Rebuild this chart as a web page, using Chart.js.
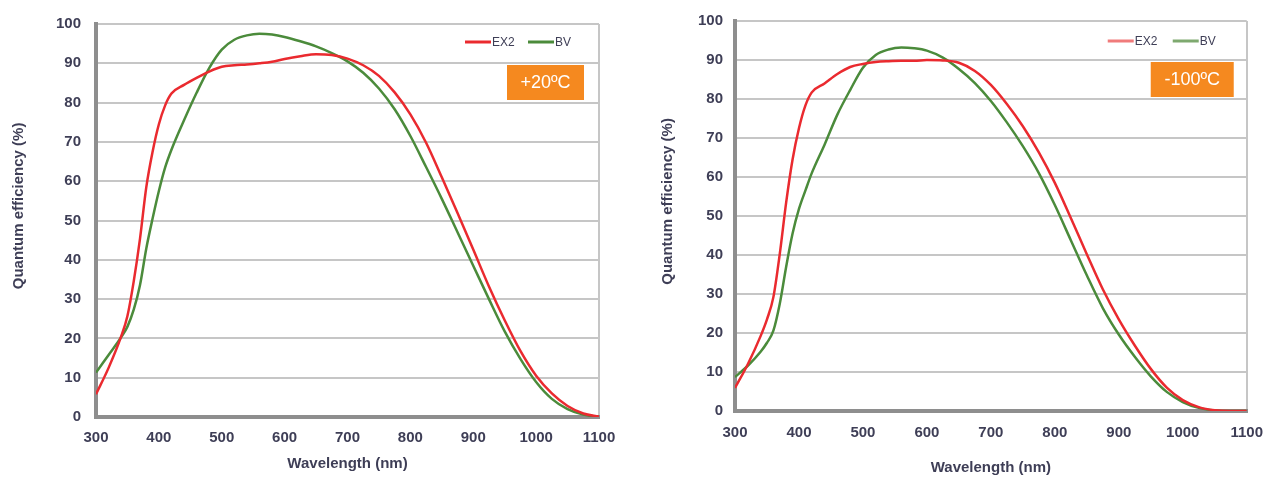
<!DOCTYPE html>
<html>
<head>
<meta charset="utf-8">
<script src="https://cdn.jsdelivr.net/npm/chart.js"></script>
<style>
  html, body { margin: 0; background: #fff; overflow: hidden; }
  body { width: 1265px; height: 482px; position: relative; }
  canvas { position: absolute; top: 0; }
  #warm { left: 0; }
  #cold { left: 633px; }
</style>
</head>
<body>
<canvas id="warm" width="632" height="482"></canvas>
<canvas id="cold" width="643" height="482"></canvas>
<script>
// wavelength grid (nm) shared by all four curves
const wavelengths = [300, 320, 340, 350, 360, 370, 380, 390, 400, 410, 420, 440, 460, 480, 500, 520, 540, 560, 580, 600,
  625, 650, 675, 700, 725, 750, 775, 800, 825, 850, 875, 900, 925, 950, 975, 1000, 1025, 1050, 1075, 1100];

// +20ºC
const warmEx2 = [5.8, 12.5, 20.5, 25.7, 34.5, 45.4, 58.5, 67.5, 74.5, 79.3, 82.3, 84.5, 86.3, 87.9, 89.1, 89.5, 89.7, 90, 90.4, 91.1,
  91.8, 92.3, 92.1, 91.2, 89.5, 86.8, 82.6, 77, 69.8, 61, 51.9, 42.6, 33.2, 24.6, 16.8, 10.5, 6, 2.8, 0.9, 0.1];
const warmBv = [11.3, 15.8, 20.3, 23, 27.3, 33.6, 42.9, 50.5, 57.5, 63.5, 68, 75.5, 82.5, 88.8, 93.5, 96, 97.1, 97.5, 97.3, 96.7,
  95.6, 94.3, 92.6, 90.5, 87.6, 83.6, 78.3, 71.5, 63.6, 55.5, 47, 38.5, 30, 21.8, 14.8, 8.9, 4.6, 2, 0.6, 0];

// -100ºC
const coldEx2 = [5.9, 12, 19.2, 23.5, 29.2, 40.3, 53.5, 64.5, 72.5, 78.3, 81.7, 84, 86.4, 88.2, 89, 89.5, 89.7, 89.8, 89.8, 90,
  89.9, 89.3, 87.2, 83.6, 78.7, 73, 66.3, 58.5, 49.5, 40.2, 31.2, 23.5, 16.8, 10.8, 6, 2.8, 1, 0.2, 0, 0];
const coldBv = [8.7, 11.6, 15.2, 17.5, 20.6, 27.5, 37, 45.5, 51.8, 56.5, 61, 68.3, 76, 82.3, 88, 91.3, 92.7, 93.2, 93, 92.4,
  90.6, 87.7, 84.1, 79.5, 74, 67.9, 61, 52.8, 43.8, 34.8, 26.4, 19.6, 13.9, 8.9, 4.9, 2.3, 0.8, 0.15, 0, 0];

const xTicks = [300, 1100, 100];   // min, max, step
const yTicks = [0, 100, 10];

const RED = '#ea2a2f';
const GREEN = '#4b8b3b';
const TEXT = '#3e3e56';
const GRID = '#c6c6c6';
const AXIS = '#8e8e8e';
const ORANGE = '#f5891f';
const FONT = '"Liberation Sans", Arial, sans-serif';

// legend + temperature badge inside the plot area
const badgePlugin = {
  id: 'badge',
  afterDraw(chart, args, o) {
    const { ctx, chartArea: a } = chart;
    const y = a.top + o.legendY;
    ctx.save();
    chart.data.datasets.forEach((ds, i) => {
      const x = a.right + o.legendX[i];
      ctx.strokeStyle = o.legendColors[i];
      ctx.lineWidth = 3;
      ctx.beginPath();
      ctx.moveTo(x, y);
      ctx.lineTo(x + 26, y);
      ctx.stroke();
      ctx.fillStyle = TEXT;
      ctx.font = '12px ' + FONT;
      ctx.textBaseline = 'middle';
      ctx.textAlign = 'left';
      ctx.fillText(ds.label, x + 27, y + 1);
    });
    const bx = a.right + o.boxX, by = a.top + 41;
    ctx.fillStyle = ORANGE;
    ctx.fillRect(bx, by, o.boxW, 35);
    ctx.fillStyle = '#fff';
    ctx.font = '18px ' + FONT;
    ctx.textAlign = 'center';
    ctx.textBaseline = 'middle';
    ctx.fillText(o.temp, bx + o.boxW / 2, by + 18);
    ctx.restore();
  }
};

function makeChart(id, ex2, bv, o) {
  const pts = vals => wavelengths.map((w, i) => ({ x: w, y: vals[i] }));
  const line = { borderWidth: 2.5, pointRadius: 0, cubicInterpolationMode: 'monotone', fill: false };
  const tickFont = { family: FONT, size: 15, weight: 'bold' };
  return new Chart(document.getElementById(id), {
    type: 'line',
    data: {
      datasets: [
        { label: 'EX2', data: pts(ex2), borderColor: RED, ...line },
        { label: 'BV', data: pts(bv), borderColor: GREEN, ...line }
      ]
    },
    options: {
      responsive: false,
      animation: false,
      layout: { padding: { top: 20, right: o.padRight, left: 0, bottom: 0 } },
      plugins: {
        legend: { display: false },
        tooltip: { enabled: false },
        badge: o.badge
      },
      scales: {
        x: {
          type: 'linear', min: xTicks[0], max: xTicks[1],
          ticks: { stepSize: xTicks[2], padding: o.xPad, color: TEXT, font: tickFont, callback: v => String(v) },
          grid: { drawTicks: false, lineWidth: 2, color: c => (c.tick && c.tick.value === xTicks[1]) ? GRID : 'rgba(0,0,0,0)' },
          border: { color: AXIS, width: 4 },
          title: { display: true, text: 'Wavelength (nm)', color: TEXT, font: tickFont, padding: { top: 0, bottom: o.xTitlePad } },
          afterFit: s => { s.height = o.xHeight; }
        },
        y: {
          min: yTicks[0], max: yTicks[1],
          ticks: { stepSize: yTicks[2], padding: o.yPad, color: TEXT, font: tickFont, callback: v => String(v) },
          grid: { drawTicks: false, lineWidth: 2, color: GRID },
          border: { color: AXIS, width: 4 },
          title: { display: true, text: '       Quantum efficiency (%)', color: TEXT, font: tickFont, padding: { top: o.yTitlePad, bottom: 0 } },
          afterFit: s => { s.width = o.yWidth; }
        }
      }
    },
    plugins: [badgePlugin]
  });
}

makeChart('warm', warmEx2, warmBv, {
  padRight: 33, xHeight: 65, yWidth: 96, xPad: 12, yPad: 15, xTitlePad: 9, yTitlePad: 10,
  badge: { temp: '+20ºC', legendY: 18, legendX: [-134, -71], legendColors: [RED, GREEN], boxX: -92, boxW: 77 }
});

makeChart('cold', coldEx2, coldBv, {
  padRight: 18, xHeight: 71, yWidth: 102, xPad: 13, yPad: 12, xTitlePad: 5, yTitlePad: 26,
  badge: { temp: '-100ºC', legendY: 20, legendX: [-139, -74], legendColors: ['#f07b7b', '#7ea96f'], boxX: -96, boxW: 83 }
});
</script>
</body>
</html>
